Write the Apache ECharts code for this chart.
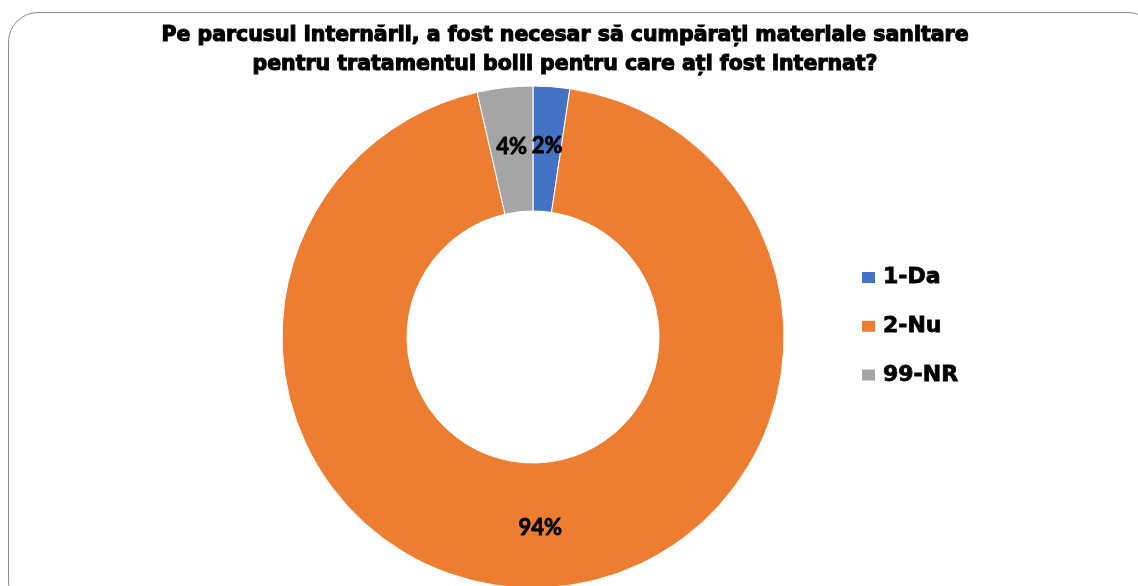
<!DOCTYPE html>
<html>
<head>
<meta charset="utf-8">
<script src="https://cdn.jsdelivr.net/npm/echarts@6/dist/echarts.min.js"></script>
<style>
  html, body { margin: 0; padding: 0; background: #fff; overflow: hidden; }
  #frame {
    position: absolute; left: 8px; top: 12px; width: 1150px; height: 600px;
    border: 1.5px solid #8c8c8c; border-radius: 30px; box-sizing: border-box;
  }
  #chart { position: absolute; left: 0; top: 0; width: 1138px; height: 586px; }
</style>
</head>
<body>
<div id="frame"></div>
<div id="chart"></div>
<script>
// answer categories and their shares
const categories = ['1-Da', '2-Nu', '99-NR'];
const shares = [2.35, 94.08, 3.57];
const colors = ['#4472C4', '#ED7D31', '#A5A5A5'];

const titleLines = [
  'Pe parcusul internării, a fost necesar să cumpărați materiale sanitare',
  'pentru tratamentul bolii pentru care ați fost internat?'
];

const chart = echarts.init(document.getElementById('chart'));

const option = {
  animation: false,
  title: {
    text: titleLines.join('\n'),
    left: 560,
    top: 16,
    textAlign: 'center',
    textStyle: {
      fontFamily: 'DejaVu Sans',
      fontWeight: 'bold',
      fontSize: 20.5,
      lineHeight: 29,
      color: '#000',
      textBorderColor: '#000',
      textBorderWidth: 1.1
    }
  },
  legend: {
    orient: 'vertical',
    left: 855,
    top: 261,
    itemWidth: 15,
    itemHeight: 13,
    itemGap: 26,
    icon: 'rect',
    data: categories,
    textStyle: {
      fontFamily: 'DejaVu Sans',
      fontWeight: 'bold',
      fontSize: 22,
      color: '#000',
      textBorderColor: '#000',
      textBorderWidth: 0.8,
      padding: [0, 0, 0, 2]
    }
  },
  series: [
    {
      type: 'pie',
      center: [533, 337],
      radius: [126, 251],
      startAngle: 90,
      clockwise: true,
      itemStyle: { borderColor: '#fff', borderWidth: 1 },
      label: {
        show: true,
        position: 'inside',
        formatter: (p) => Math.round(p.value) + '%',
        fontFamily: 'Lato',
        fontWeight: 'bold',
        fontSize: 22,
        color: '#000',
        textBorderColor: '#000',
        textBorderWidth: 0.8
      },
      labelLine: { show: false },
      emphasis: { disabled: true },
      data: categories.map((c, i) => ({
        name: c,
        value: shares[i],
        itemStyle: { color: colors[i] }
      }))
    }
  ]
};

chart.setOption(option);
</script>
</body>
</html>
